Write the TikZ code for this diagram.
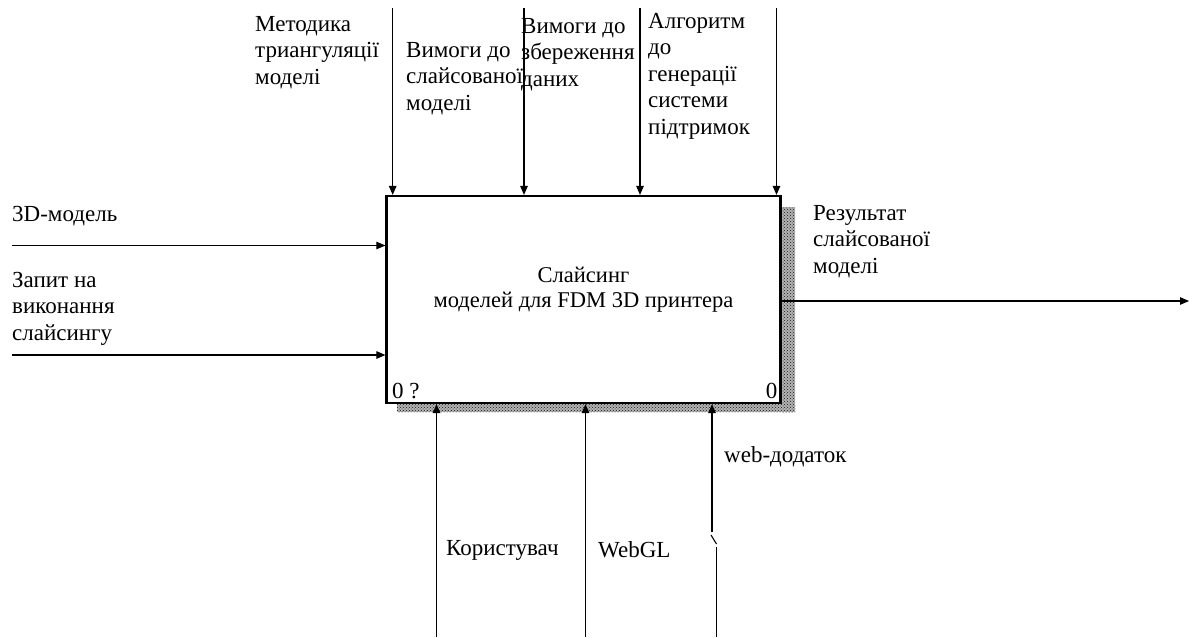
\documentclass[tikz,border=0pt]{standalone}
\usepackage{fontspec}
\setmainfont{Liberation Serif}
\usetikzlibrary{arrows.meta, patterns, positioning}

\begin{document}
\begin{tikzpicture}[
    x=1pt, y=-1pt,
    func/.style={rectangle, draw=black, line width=2.2pt,
                 minimum width=394pt, minimum height=207pt,
                 fill=white, inner sep=0pt},
    shadow/.style={fill=black!30,
                   postaction={pattern=crosshatch dots, pattern color=black!90}},
    title/.style={align=center, inner sep=0pt,
                  font=\fontsize{22.5}{25}\selectfont},
    lbl/.style={anchor=base west, align=left, inner sep=0pt,
                font=\fontsize{23}{26.5}\selectfont},
    arr/.style={-{Triangle[length=9pt,width=7.5pt]}, line width=1.1pt},
    wire/.style={line width=1.1pt},
]
\useasboundingbox (0,0) rectangle (1190,637);

%% Shadow and function box
\fill[shadow] (781,207) rectangle (795,412);
\fill[shadow] (397,403) rectangle (795,412);
\node[func] (slicer) at (583.5,299.5) {};
\node[title] (name) at ([yshift=10pt]slicer.center)
    {Слайсинг\\моделей для FDM 3D принтера};
\node[lbl] (num) at ([xshift=6.5pt, yshift=6pt]slicer.south west) {0 ?};
\node[lbl, anchor=base east] (num2) at ([xshift=-4pt, yshift=6pt]slicer.south east) {0};

%% Controls (base = last line)
\coordinate (ctl1) at (392.7,8);
\coordinate (ctl2) at (524,8);
\coordinate (ctl3) at (640,8);
\coordinate (ctl4) at (776.5,8);
\node[lbl] (method) at (255,84)  {Методика\\триангуляції\\моделі};
\node[lbl] (reqsl)  at (406,110) {Вимоги до\\слайсованої\\моделі};
\node[lbl] (reqst)  at (521,86)  {Вимоги до\\збереження\\даних};
\node[lbl] (algo)   at (648,134) {Алгоритм\\до\\генерації\\системи\\підтримок};

%% Inputs
\coordinate (in1) at (12,245.5);
\coordinate (in2) at (12,355);
\node[lbl] (model)   at (12,221) {3D-модель};
\node[lbl] (request) at (12,340) {Запит на\\виконання\\слайсингу};

%% Output
\coordinate (out1) at (1189,301);
\node[lbl] (result) at (813,273) {Результат\\слайсованої\\моделі};

%% Mechanisms
\coordinate (mech1) at (436.5,637);
\coordinate (mech2) at (585.5,637);
\coordinate (web1) at (712,532);
\coordinate (web2) at (711,535);
\coordinate (web3) at (716.5,544);
\coordinate (web4) at (716.5,637);
\node[lbl] (user)   at (446,555) {Користувач};
\node[lbl] (webgl)  at (598,557) {WebGL};
\node[lbl] (webapp) at (724,462) {web-додаток};

%% Arrows
\foreach \c in {ctl1,ctl2,ctl3,ctl4}
    \draw[arr] (\c) -- (\c |- slicer.north);
\foreach \c in {in1,in2}
    \draw[arr] (\c) -- (\c -| slicer.west);
\draw[arr] (out1 -| slicer.east) -- (out1);
\foreach \c in {mech1,mech2,web1}
    \draw[arr] (\c) -- (\c |- slicer.south);
\draw[wire] (web2) -- (web3);
\draw[wire] (web3) ++(0,3) -- (web4);
\end{tikzpicture}
\end{document}
